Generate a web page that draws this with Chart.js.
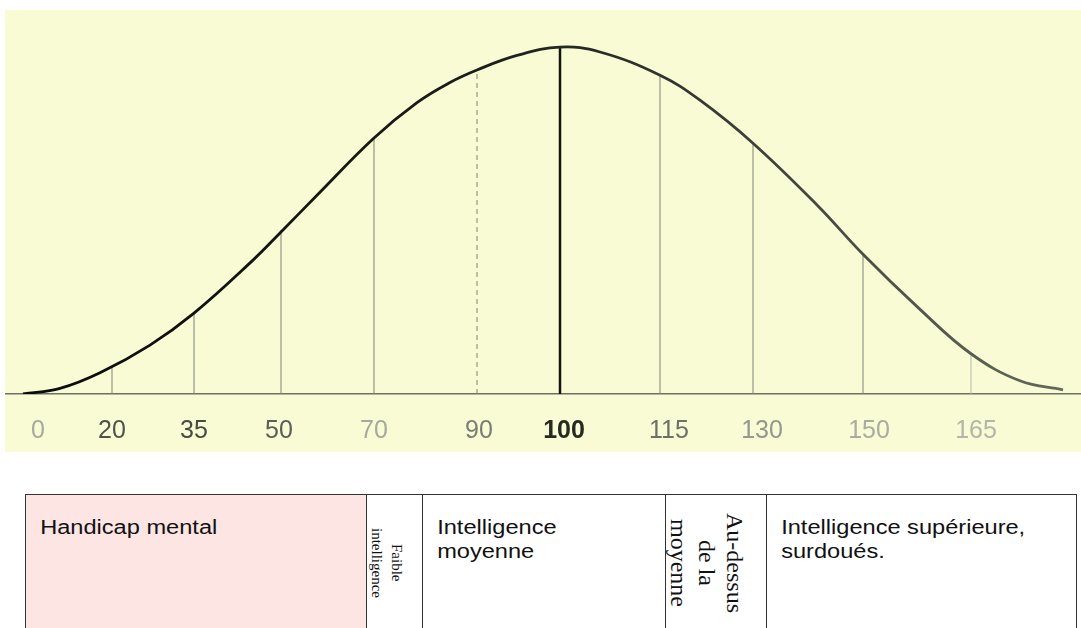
<!DOCTYPE html>
<html lang="fr">
<head>
<meta charset="utf-8">
<title>Courbe de Gauss du QI</title>
<script src="https://cdn.jsdelivr.net/npm/chart.js@4/dist/chart.umd.min.js"></script>
<style>
  html, body { margin: 0; padding: 0; background: #fff; }
  body { width: 1081px; height: 628px; overflow: hidden; position: relative; font-family: "Liberation Sans", Arial, sans-serif; }
  #plot { position: absolute; left: 5px; top: 10px; width: 1076px; height: 442px; background: #f8fbd3; }
  .cell { position: absolute; top: 494px; height: 137px; box-sizing: border-box;
          border-top: 1.5px solid #333; border-left: 1.5px solid #333; color: #111; }
  .cell.last { border-right: 1.5px solid #333; }
  .txt { font-size: 20px; line-height: 24px; padding: 20px 0 0 12px; transform: scaleX(1.18); transform-origin: left top; white-space: nowrap; }
  .vert { display: flex; align-items: center; justify-content: center; font-family: "Liberation Serif", "Times New Roman", serif; }
  .vert div { writing-mode: vertical-rl; text-align: center; }
</style>
</head>
<body>
<div id="plot"><canvas id="curve"></canvas></div>

<div class="cell" style="left:25px;width:342px;background:#fde5e4;"><div class="txt">Handicap mental</div></div>
<div class="cell vert" style="left:366px;width:57px;padding-right:16px;"><div style="font-size:15px;line-height:20px;">Faible<br>intelligence</div></div>
<div class="cell" style="left:422px;width:244px;"><div class="txt">Intelligence<br>moyenne</div></div>
<div class="cell vert" style="left:665px;width:102px;padding-right:20px;"><div style="font-size:24px;line-height:28px;">Au-dessus<br>de la<br>moyenne</div></div>
<div class="cell last" style="left:766px;width:311px;"><div class="txt">Intelligence supérieure,<br>surdoués.</div></div>

<script>
// position along the printed scale (the IQ axis is not drawn at even steps)
const iqLabels = ['0', '20', '35', '50', '70', '90', '100', '115', '130', '150', '165'];
const labelPos = [38, 112, 194, 279, 374, 479, 564, 669, 762, 869, 976];

// bell curve, height in % of the peak
const curveX = [23, 60, 100, 150, 194, 253, 281, 317, 374, 417, 450, 477, 517, 560,
                600, 660, 700, 753, 817, 863, 920, 971, 1020, 1063];
const curveY = [0, 1.6, 6.1, 14.1, 23.3, 38.6, 46.7, 57.3, 73.8, 84.0, 89.8, 93.4, 97.6, 100,
                98.6, 91.9, 84.7, 72.3, 54.5, 40.3, 24.4, 11.6, 3.8, 1.2];

// vertical separators at 20, 35, 50, 70, 90, 100, 115, 130, 150, 165
const linePos = [112, 194, 281, 374, 477, 560, 660, 753, 863, 971];
const lineTop = [7.8, 23.3, 47.3, 73.8, 92.8, 100, 91.9, 72.3, 40.3, 11.2];

const tickColors = ['#a7aa9a', '#4f5347', '#484b42', '#5b5f55', '#a6a99c', '#7a7e72',
                    '#262a20', '#6c7065', '#95988c', '#a9ac9f', '#b3b5a8'];

function curveStroke(c) {
  const chart = c.chart;
  const area = chart.chartArea;
  if (!area) return '#222';
  const g = chart.ctx.createLinearGradient(area.left, 0, area.right, 0);
  g.addColorStop(0, '#0a0a0a');
  g.addColorStop(0.45, '#1c1e1a');
  g.addColorStop(1, '#666b5e');
  return g;
}

const datasets = [{
  data: curveX.map((x, i) => ({ x, y: curveY[i] })),
  borderColor: curveStroke,
  borderWidth: 2.8,
  pointRadius: 0,
  tension: 0.4,
  fill: false
}];

linePos.forEach((x, i) => {
  const label = iqLabels[i + 1];
  datasets.push({
    data: [{ x, y: 0 }, { x, y: lineTop[i] }],
    borderColor: label === '100' ? '#151515' : (label === '165' ? '#b7baac' : '#7f8475'),
    borderWidth: label === '100' ? 2.5 : 1,
    borderDash: label === '90' ? [5, 4] : [],
    pointRadius: 0,
    fill: false
  });
});

new Chart(document.getElementById('curve'), {
  type: 'line',
  data: { datasets },
  options: {
    responsive: true,
    maintainAspectRatio: false,
    animation: false,
    layout: { padding: 0 },
    plugins: { legend: { display: false }, tooltip: { enabled: false } },
    scales: {
      x: {
        type: 'linear',
        min: 5,
        max: 1081,
        grid: { display: false, drawTicks: false },
        border: { display: true, color: '#6d7166', width: 1.5 },
        afterBuildTicks: (scale) => { scale.ticks = labelPos.map(v => ({ value: v })); },
        afterFit: (scale) => { scale.height = 58; },
        ticks: {
          autoSkip: false,
          maxRotation: 0,
          padding: 22,
          callback: (v, i) => iqLabels[i],
          color: (c) => tickColors[c.index],
          font: (c) => ({
            family: '"Liberation Sans", Arial, sans-serif',
            size: 25,
            weight: iqLabels[c.index] === '100' ? 'bold' : 'normal'
          })
        }
      },
      y: { display: false, min: 0, max: 110.7 }
    }
  }
});
</script>
</body>
</html>
